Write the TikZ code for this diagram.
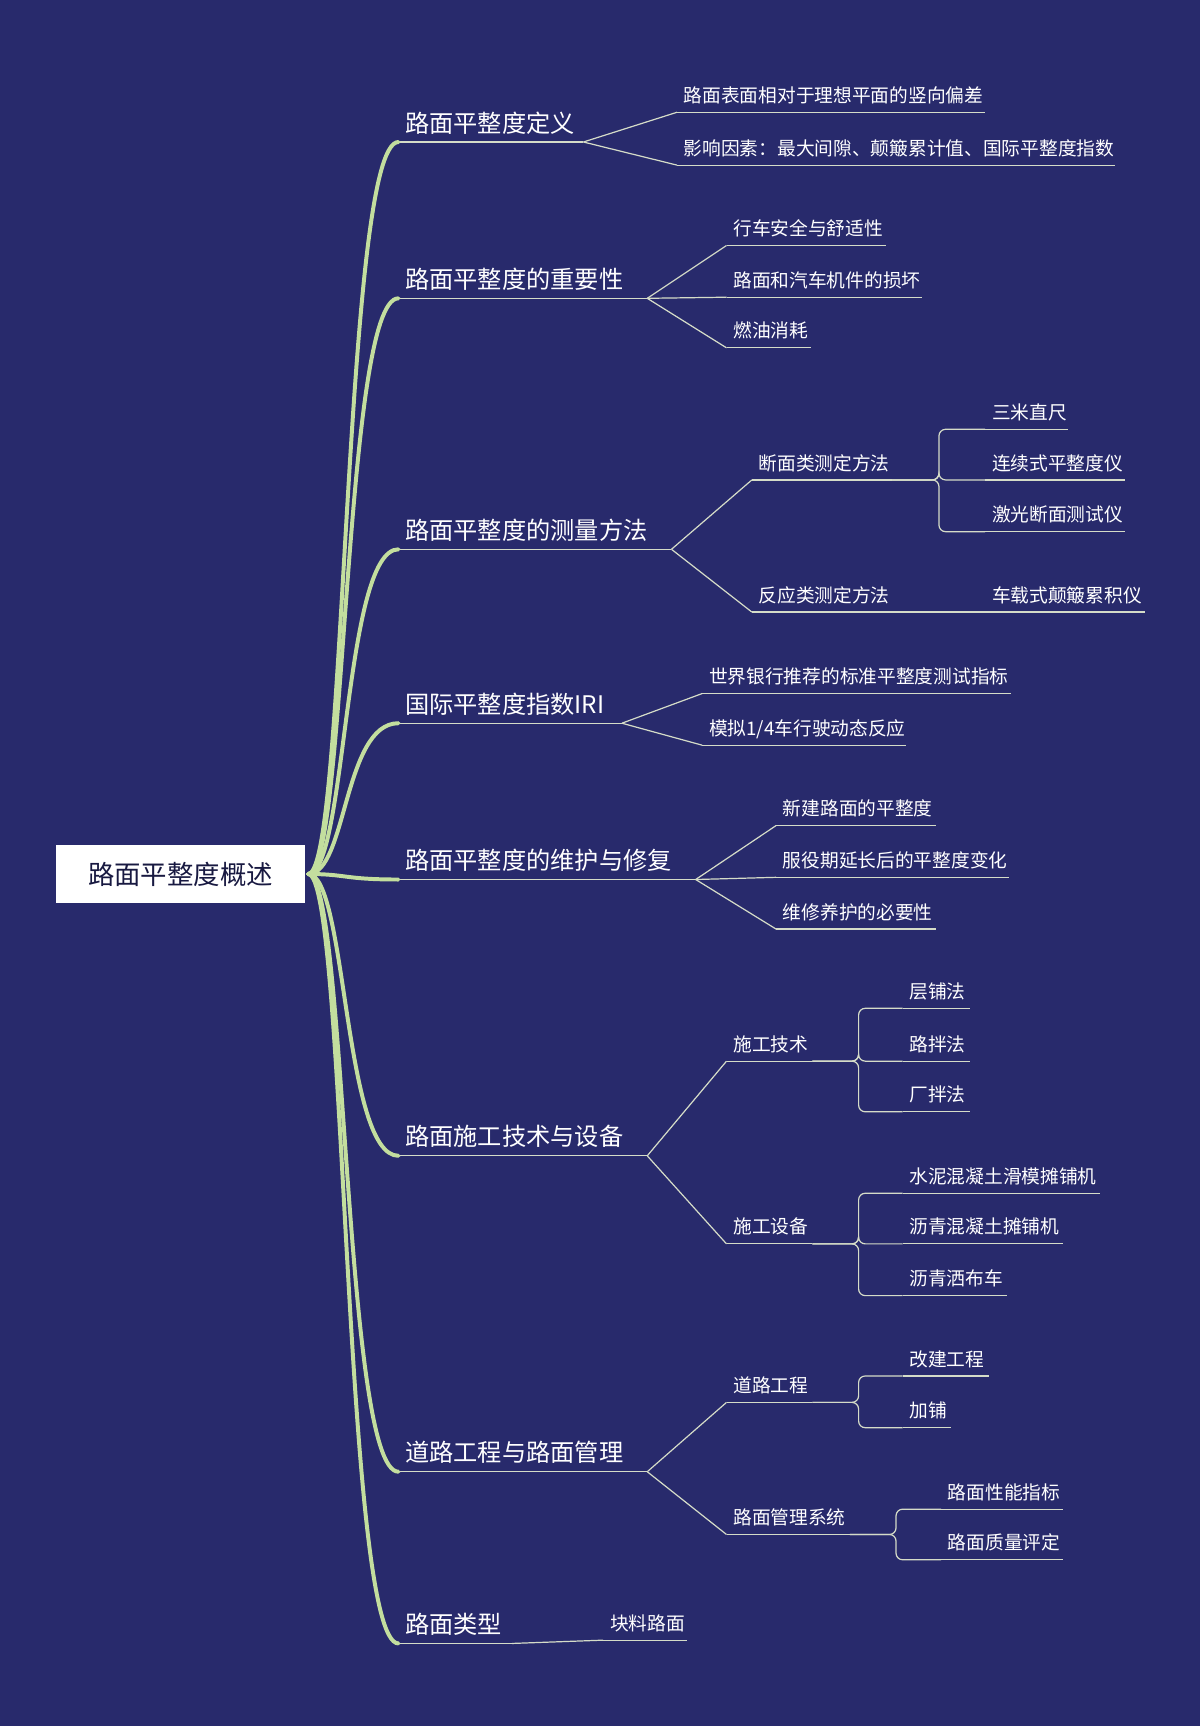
\documentclass[tikz,border=0pt]{standalone}
\usepackage{fontspec}
\setmainfont{Noto Sans CJK SC}
\usetikzlibrary{calc}
\definecolor{bg}{HTML}{282A6C}
\definecolor{grn}{HTML}{C3DE9E}
\definecolor{ln}{HTML}{D5DCC8}
\tikzset{
  uline/.style={draw=ln,line width=1.1pt},
  conn/.style={draw=ln,line width=1.1pt},
  mainb/.style={draw=grn,line width=3.6pt,line cap=round},
  lone/.style={text=white,font=\fontsize{22}{24}\selectfont,inner sep=0pt},
  ltwo/.style={text=white,font=\fontsize{17}{19}\selectfont,inner sep=0pt},
}
\newcommand\lf[6]{%
  \coordinate (#1s) at (#2,#3); \coordinate (#1e) at (#4,#3);
  \node[#6,anchor=base west] (#1) at (#2+6,#3-9) {#5};
  \draw[uline] (#1s)--(#1e);}
\begin{document}
\begin{tikzpicture}[x=1pt,y=-1pt]
\fill[bg] (0,0) rectangle (1090,1568);
\useasboundingbox (0,0) rectangle (1090,1568);
\node[fill=white,minimum width=226,minimum height=52,inner sep=0pt,text=bg!60!black,font=\fontsize{24}{26}\selectfont] (root) at (164,794) {路面平整度概述};
\coordinate (r) at (280,794);
% level 1
\lf{a}{362}{129}{530}{路面平整度定义}{lone}
\lf{b}{362}{271}{588}{路面平整度的重要性}{lone}
\lf{c}{362}{499}{610}{路面平整度的测量方法}{lone}
\lf{d}{362}{657}{565}{国际平整度指数IRI}{lone}
\lf{e}{362}{799}{632}{路面平整度的维护与修复}{lone}
\lf{f}{362}{1050}{588}{路面施工技术与设备}{lone}
\lf{g}{362}{1337}{588}{道路工程与路面管理}{lone}
\lf{h}{362}{1493}{465}{路面类型}{lone}
\foreach \n in {a,b,c,d,e,f,g,h}{
  \draw[mainb] (r) .. controls ($(r)+(35,0)$) and ($(\n s)+(-50,0)$) .. (\n s);}
% level 2
\lf{a1}{615}{102}{895}{路面表面相对于理想平面的竖向偏差}{ltwo}
\lf{a2}{615}{150}{1013}{影响因素：最大间隙、颠簸累计值、国际平整度指数}{ltwo}
\lf{b1}{660}{223}{805}{行车安全与舒适性}{ltwo}
\lf{b2}{660}{270}{838}{路面和汽车机件的损坏}{ltwo}
\lf{b3}{660}{316}{737}{燃油消耗}{ltwo}
\lf{c1}{683}{436}{810}{断面类测定方法}{ltwo}
\lf{c2}{683}{556}{895}{反应类测定方法}{ltwo}
\lf{d1}{638}{630}{918}{世界银行推荐的标准平整度测试指标}{ltwo}
\lf{d2}{638}{677}{823}{模拟1/4车行驶动态反应}{ltwo}
\lf{e1}{705}{750}{850}{新建路面的平整度}{ltwo}
\lf{e2}{705}{797}{917}{服役期延长后的平整度变化}{ltwo}
\lf{e3}{705}{844}{850}{维修养护的必要性}{ltwo}
\lf{f1}{660}{964}{738}{施工技术}{ltwo}
\lf{f2}{660}{1130}{738}{施工设备}{ltwo}
\lf{g1}{660}{1274}{738}{道路工程}{ltwo}
\lf{g2}{660}{1394}{772}{路面管理系统}{ltwo}
\lf{h1}{548}{1490}{624}{块料路面}{ltwo}
\foreach \p/\c in {a/a1,a/a2,b/b1,b/b2,b/b3,c/c1,c/c2,d/d1,d/d2,e/e1,e/e2,e/e3,f/f1,f/f2,g/g1,g/g2,h/h1}{
  \draw[conn] (\p e) .. controls ($(\p e)!0.5!(\c s)$ |- \p e) and ($(\p e)!0.5!(\c s)$ |- \c s) .. (\c s);}
% level 3
\lf{c11}{895}{390}{970}{三米直尺}{ltwo}
\lf{c12}{895}{436}{1022}{连续式平整度仪}{ltwo}
\lf{c13}{895}{483}{1022}{激光断面测试仪}{ltwo}
\lf{c21}{895}{556}{1040}{车载式颠簸累积仪}{ltwo}
\lf{f11}{820}{916}{881}{层铺法}{ltwo}
\lf{f12}{820}{964}{881}{路拌法}{ltwo}
\lf{f13}{820}{1010}{881}{厂拌法}{ltwo}
\lf{f21}{820}{1084}{999}{水泥混凝土滑模摊铺机}{ltwo}
\lf{f22}{820}{1130}{966}{沥青混凝土摊铺机}{ltwo}
\lf{f23}{820}{1177}{915}{沥青洒布车}{ltwo}
\lf{g11}{820}{1250}{898}{改建工程}{ltwo}
\lf{g12}{820}{1297}{864}{加铺}{ltwo}
\lf{g21}{855}{1371}{966}{路面性能指标}{ltwo}
\lf{g22}{855}{1417}{966}{路面质量评定}{ltwo}
\foreach \p/\c/\d in {c1/c11/43,c1/c12/43,c1/c13/43,f1/f11/42,f1/f12/42,f1/f13/42,f2/f21/42,f2/f22/42,f2/f23/42,g1/g11/42,g1/g12/42,g2/g21/42,g2/g22/42}{
  \draw[conn,rounded corners=6pt] (\p e) -- ++(\d,0) |- (\c s);}
\draw[conn] (c2e) -- (c21s);
\end{tikzpicture}
\end{document}
